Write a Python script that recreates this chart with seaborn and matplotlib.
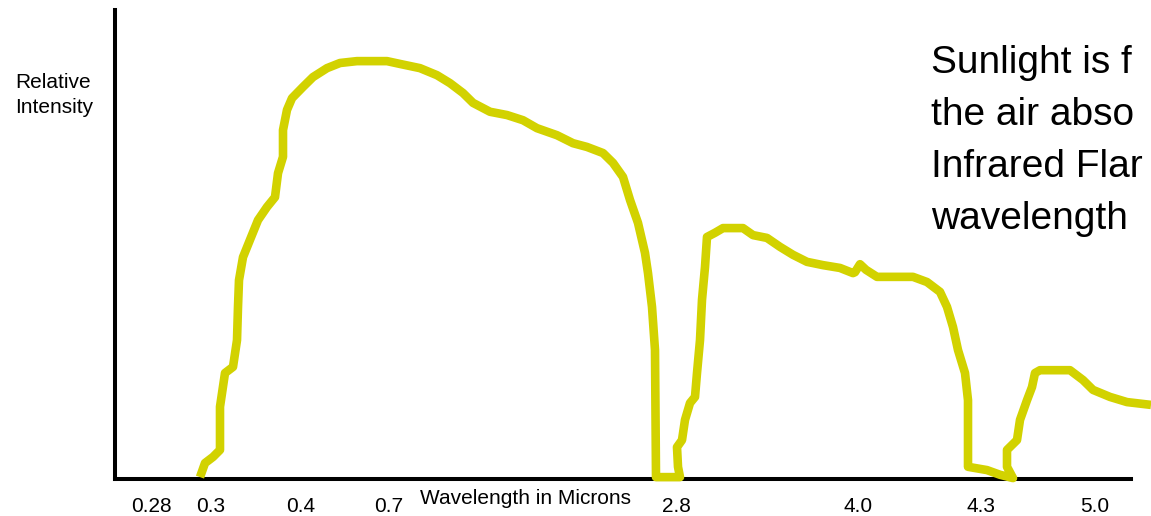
import matplotlib
matplotlib.use("Agg")
import matplotlib.pyplot as plt
import seaborn as sns
import pandas as pd

# position along the (schematic, non-linear) wavelength axis, 0..~104
pos = [8.5, 9.0, 9.8, 10.5, 10.5, 11.0, 11.8, 12.2, 12.3, 12.4, 12.8, 13.5, 14.3, 15.2, 16.0,
       16.3, 16.8, 16.8, 17.2, 17.7, 18.8, 19.8, 21.2, 22.5, 24.2, 27.2, 28.5, 30.5, 32.2,
       33.5, 34.8, 35.8, 37.5, 39.2, 40.8, 42.2, 44.2, 45.8, 47.2, 48.8, 49.8, 50.8, 51.5,
       52.3, 53.0, 53.3, 53.7, 54.0, 54.1,
       56.5, 56.3, 56.2, 56.7, 57.0, 57.5, 58.0, 58.2, 58.5, 58.7, 59.0, 59.2, 60.0, 60.8,
       62.8, 63.8, 65.2, 66.5, 67.8, 69.2, 70.8, 72.5, 73.8, 74.0, 74.5, 75.1, 76.2, 79.8,
       81.2, 82.5, 83.2, 83.8, 84.3, 85.0, 85.3, 85.3, 87.2, 88.5, 89.8,
       89.2, 89.2, 90.2, 90.5, 91.2, 91.7, 92.0, 92.5, 95.5, 96.8, 97.8, 99.5, 101.2, 103.6]
# relative intensity (0..100)
intensity = [0.4, 3.4, 4.7, 6.2, 15.4, 22.6, 23.9, 29.6, 36.7, 42.4, 47.3, 51.0, 55.2, 58.0, 60.1,
             65.2, 68.7, 74.4, 78.7, 81.2, 83.6, 85.7, 87.6, 88.7, 89.1, 89.1, 88.5, 87.6, 86.1,
             84.4, 82.3, 80.2, 78.3, 77.6, 76.5, 74.8, 73.3, 71.6, 70.8, 69.5, 67.4, 64.4, 59.5,
             54.6, 48.2, 43.9, 36.7, 27.5, 0.4,
             0.4, 2.6, 6.8, 8.3, 12.6, 16.2, 17.5, 22.6, 29.6, 38.2, 45.2, 51.6, 52.5, 53.5,
             53.5, 52.0, 51.4, 49.5, 47.8, 46.3, 45.6, 45.0, 43.9, 44.1, 45.8, 44.6, 43.1, 43.1,
             42.0, 39.9, 36.7, 32.4, 27.5, 22.6, 16.8, 2.6, 1.9, 0.9, 0.2,
             2.6, 6.2, 8.3, 12.6, 16.8, 19.6, 22.6, 23.2, 23.2, 21.1, 19.0, 17.5, 16.4, 15.8]

tick_pos = [3.6, 9.6, 18.6, 27.4, 56.1, 74.3, 86.6, 98.0]
tick_labels = ["0.28", "0.3", "0.4", "0.7", "2.8", "4.0", "4.3", "5.0"]

x_label = "Wavelength in Microns"
y_label_lines = ["Relative", "Intensity"]
note_lines = ["Sunlight is f", "the air abso", "Infrared Flar", "wavelength"]

sns.set_theme(style="white")
plt.rcParams["font.family"] = ["Liberation Sans", "DejaVu Sans"]

W, H = 1151, 516
fig = plt.figure(figsize=(W / 100, H / 100), dpi=100)
fig.patch.set_facecolor("white")
left, right, bottom, top = 115, 1151, 479, 10
ax = fig.add_axes([left / W, (H - bottom) / H, (right - left) / W, (bottom - top) / H])
ax.set_facecolor("white")

df = pd.DataFrame({"pos": pos, "intensity": intensity})
sns.lineplot(data=df, x="pos", y="intensity", sort=False, estimator=None, ax=ax,
             color="#d2d200", linewidth=6.2, zorder=3, clip_on=False,
             solid_joinstyle="round", solid_capstyle="butt")

ax.set_xlim(0, (right - left) / 10)
ax.set_ylim(0, 100)

for s in ["top", "right"]:
    ax.spines[s].set_visible(False)
for s in ["left", "bottom"]:
    ax.spines[s].set_color("black")
    ax.spines[s].set_linewidth(2.9)
ax.spines["bottom"].set_bounds(0, 101.6)

ax.set_yticks([])
ax.set_xticks(tick_pos)
ax.set_xticklabels(tick_labels, fontsize=15, color="black")
ax.tick_params(axis="x", length=0, pad=13)

ax.set_xlabel(x_label, fontsize=15, color="black")
ax.xaxis.set_label_coords((526 - left) / (right - left), (bottom - 498) / (bottom - top))
ax.xaxis.label.set_va("center")
ax.set_ylabel("")

for i, t in enumerate(y_label_lines):
    fig.text(15 / W, 1 - (88 + 25 * i) / H, t, fontsize=15, ha="left", va="baseline", color="black")

for i, t in enumerate(note_lines):
    fig.text(931 / W, 1 - (73 + 52 * i) / H, t, fontsize=28, ha="left", va="baseline", color="black")

fig.savefig("out.png", dpi=100)
